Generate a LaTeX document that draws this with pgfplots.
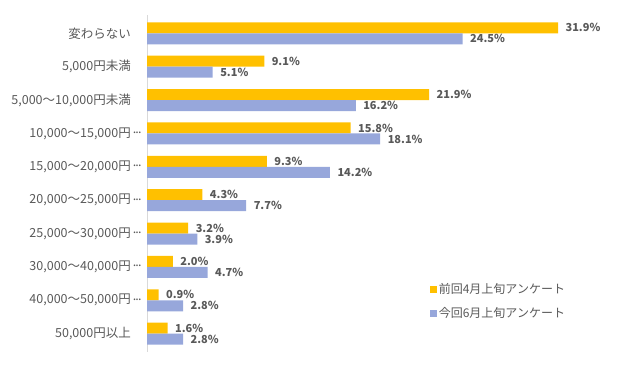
\documentclass[border=0pt]{standalone}
\usepackage{fontspec}
\setmainfont{Noto Sans CJK JP}
\usepackage{pgfplots}
\pgfplotsset{compat=1.18}
\definecolor{orng}{HTML}{FFC000}
\definecolor{blu}{HTML}{97A7DB}
\definecolor{txt}{HTML}{595959}
\definecolor{axl}{HTML}{D9D9D9}
\newcommand{\ellip}{\makebox[0pt][l]{\kern2pt\raisebox{0.3em}{.\kern-0.8pt.\kern-0.8pt.}}}
\begin{document}
\begin{tikzpicture}[x=1pt,y=1pt]
\useasboundingbox (0,0) rectangle (623,382);
\begin{axis}[at={(147pt,30pt)}, anchor=south west, scale only axis,
  width=451pt, height=337pt,
  xbar, bar width=11pt, xmin=0, xmax=35, ymin=-0.55, ymax=9.55,
  axis x line=none, axis y line*=left,
  y axis line style={-, draw=axl, line width=0.8pt},
  major tick length=0pt,
  ytick={0,...,9},
  yticklabels={{50,000円以上}, {40,000〜50,000円\ellip}, {30,000〜40,000円\ellip}, {25,000〜30,000円\ellip}, {20,000〜25,000円\ellip}, {15,000〜20,000円\ellip}, {10,000〜15,000円\ellip}, {5,000〜10,000円未満}, {5,000円未満}, {変わらない}},
  yticklabel style={font=\fontsize{12.5}{14}\selectfont, text=txt, anchor=east, inner sep=0pt, xshift=-16pt},
  /pgf/number format/assume math mode=true,
  point meta=x,
  nodes near coords={\pgfmathprintnumber[fixed,fixed zerofill,precision=1]{\pgfplotspointmeta}\%},
  nodes near coords style={font=\bfseries\fontsize{11}{12}\selectfont, text=txt, anchor=west, xshift=4pt},
  legend style={at={(0.62,0.215)}, anchor=north west, draw=none, fill=none,
    font=\fontsize{12}{13}\selectfont, text=txt, row sep=8pt},
  legend cell align=left,
  legend image code/.code={\fill[#1] (0pt,-3.5pt) rectangle (7pt,3.5pt);},
]
\addplot[fill=orng, draw=none, bar shift=5.5pt] coordinates {
(31.9,9) (9.1,8) (21.9,7) (15.8,6) (9.3,5) (4.3,4) (3.2,3) (2.0,2) (0.9,1) (1.6,0)};
\addlegendentry{前回4月上旬アンケート}
\addplot[fill=blu, draw=none, bar shift=-5.5pt] coordinates {
(24.5,9) (5.1,8) (16.2,7) (18.1,6) (14.2,5) (7.7,4) (3.9,3) (4.7,2) (2.8,1) (2.8,0)};
\addlegendentry{今回6月上旬アンケート}
\end{axis}
\end{tikzpicture}
\end{document}
